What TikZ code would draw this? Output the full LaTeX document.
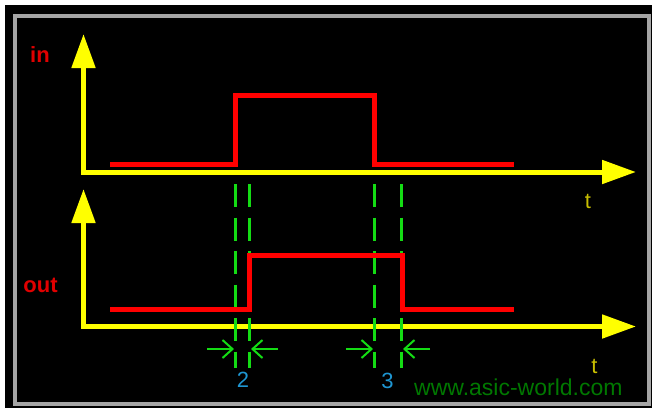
\documentclass[tikz,border=0pt]{standalone}
\usepackage{fontspec}
\setmainfont{Liberation Sans}
\usetikzlibrary{arrows.meta}
\definecolor{axisyel}{RGB}{255,255,0}
\definecolor{sigred}{RGB}{255,0,0}
\definecolor{lblred}{RGB}{225,0,0}
\definecolor{dimgreen}{RGB}{20,220,20}
\definecolor{numcyan}{RGB}{30,150,210}
\definecolor{tyel}{RGB}{200,190,0}
\definecolor{webgreen}{RGB}{0,120,0}
\definecolor{framegray}{RGB}{165,165,165}
\begin{document}
\begin{tikzpicture}[x=1pt,y=-1pt,
  axisline/.style={draw=axisyel, line width=5pt, line join=miter,
    {Triangle[length=34pt,width=23pt,fill=axisyel]}-{Triangle[length=34pt,width=23pt,fill=axisyel]}},
  sigline/.style={draw=sigred, line width=5pt, line join=miter},
  dashline/.style={draw=dimgreen, line width=2.5pt, dash pattern=on 23pt off 10.5pt},
  dimarrow/.style={draw=dimgreen, line width=2pt, -{Straight Barb[length=10pt,width=18pt]}},
  siglabel/.style={text=lblred, inner sep=0pt, font=\fontsize{22}{26}\selectfont\bfseries},
  tlabel/.style={text=tyel, inner sep=0pt, font=\fontsize{22}{26}\selectfont},
  numlabel/.style={text=numcyan, inner sep=0pt, font=\fontsize{22}{26}\selectfont},
  weblabel/.style={text=webgreen, inner sep=0pt, text height=15pt, text depth=0pt, font=\fontsize{23}{27}\selectfont}]
% background and frame
\fill[white] (0,0) rectangle (652,408);
\fill[black] (5,5) rectangle (652,408);
\draw[framegray, line width=4pt] (15,16) rectangle (649,403.5);
\useasboundingbox (0,0) rectangle (652,408);
% axes
\coordinate (ytipA) at (83.5,34);
\coordinate (origA) at (83.5,172);
\coordinate (xtipA) at (636,172);
\coordinate (ytipB) at (83.5,189);
\coordinate (origB) at (83.5,326.5);
\coordinate (xtipB) at (636,326.5);
\draw[axisline] (ytipA) -- (origA) -- (xtipA);
\draw[axisline] (ytipB) -- (origB) -- (xtipB);
% dashed markers
\coordinate (d1t) at (235.7,184); \coordinate (d1b) at (235.7,368);
\coordinate (d2t) at (249.3,184); \coordinate (d2b) at (249.3,368);
\coordinate (d3t) at (374.3,184); \coordinate (d3b) at (374.3,368);
\coordinate (d4t) at (401.7,184); \coordinate (d4b) at (401.7,368);
\draw[dashline] (d1t) -- (d1b);
\draw[dashline] (d2t) -- (d2b);
\draw[dashline] (d3t) -- (d3b);
\draw[dashline] (d4t) -- (d4b);
% signals
\draw[sigline] (110,164) -- (235.5,164) -- (235.5,95.5) -- (374.5,95.5) -- (374.5,164) -- (514,164);
\draw[sigline] (110,309.5) -- (249.5,309.5) -- (249.5,255) -- (402,255) -- (402,309.5) -- (514,309.5);
% dimension arrows
\coordinate (a1s) at (207,349); \coordinate (a1e) at (234,349);
\coordinate (a2s) at (278,349); \coordinate (a2e) at (251,349);
\coordinate (a3s) at (346,349); \coordinate (a3e) at (373,349);
\coordinate (a4s) at (430,349); \coordinate (a4e) at (403,349);
\draw[dimarrow] (a1s) -- (a1e);
\draw[dimarrow] (a2s) -- (a2e);
\draw[dimarrow] (a3s) -- (a3e);
\draw[dimarrow] (a4s) -- (a4e);
% labels
\node[siglabel] (inlbl) at (40,55) {in};
\node[siglabel] (outlbl) at (40.5,285.5) {out};
\node[tlabel] (tA) at (588,201) {t};
\node[tlabel] (tB) at (594.5,366.5) {t};
\node[numlabel] (n2) at (243,380) {2};
\node[numlabel] (n3) at (387.5,380.5) {3};
\node[weblabel, anchor=base west] (web) at (414,395) {www.asic-world.com};
\end{tikzpicture}
\end{document}
